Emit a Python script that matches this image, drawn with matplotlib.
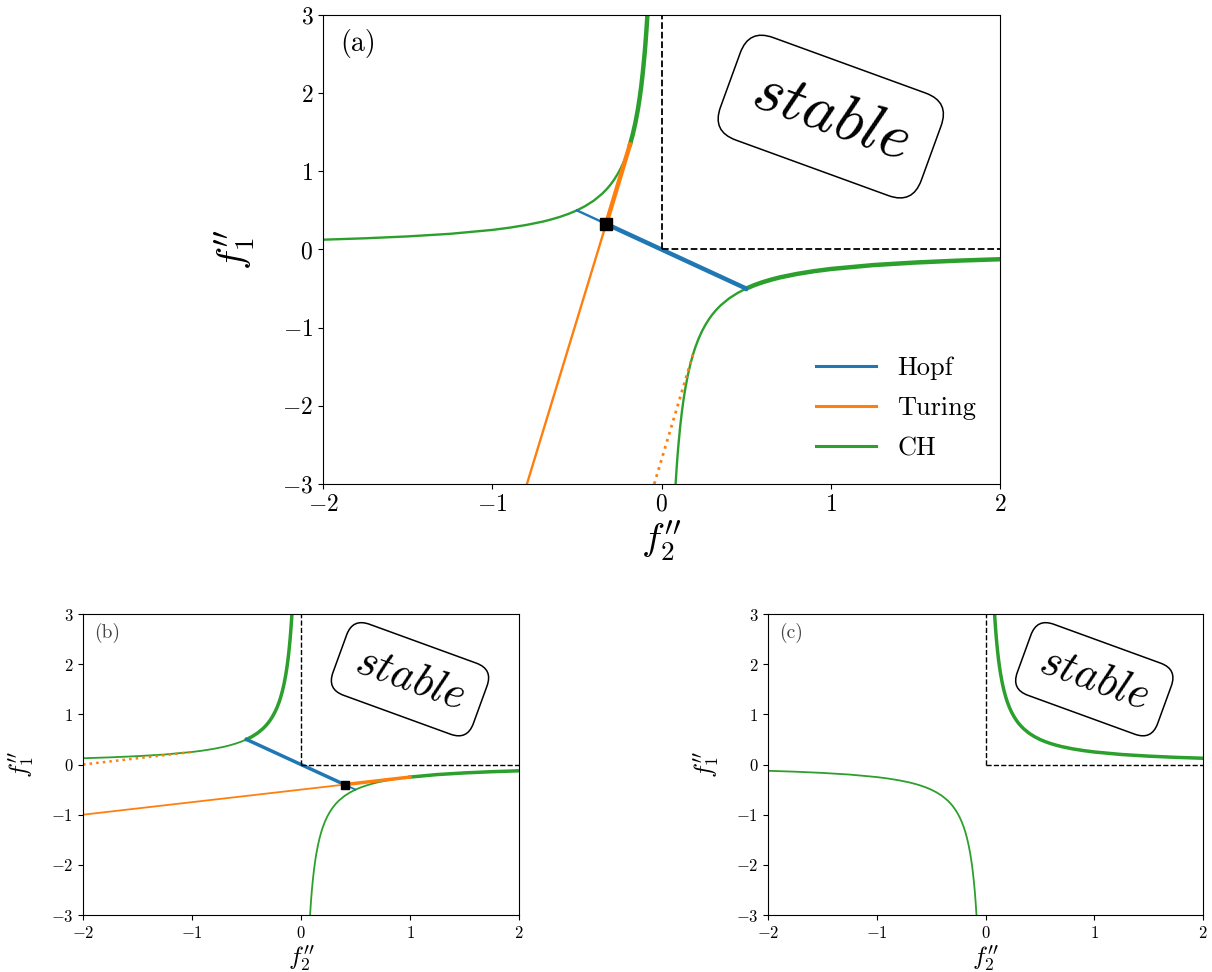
import numpy as np
import matplotlib
matplotlib.use('Agg')
import matplotlib.pyplot as plt

# Computer-Modern look without LaTeX
plt.rcParams['font.family'] = 'serif'
plt.rcParams['font.serif'] = ['cmr10']
plt.rcParams['mathtext.fontset'] = 'cm'
plt.rcParams['axes.formatter.use_mathtext'] = True

C_HOPF = '#1f77b4'
C_TURING = '#ff7f0e'
C_CH = '#2ca02c'

# CH curve branches
ch_f2_neg = [-2.0, -1.75, -1.5, -1.25, -1.0, -0.9, -0.8, -0.7, -0.65, -0.6, -0.55, -0.5,
             -0.45, -0.4, -0.35, -0.32, -0.3, -0.28, -0.26, -0.24, -0.22, -0.2, -0.186,
             -0.17, -0.155, -0.14, -0.13, -0.12, -0.11, -0.1, -0.095, -0.09, -0.085, -0.083]
ch_f1_pos = [0.125, 0.143, 0.167, 0.2, 0.25, 0.278, 0.313, 0.357, 0.385, 0.417, 0.455, 0.5,
             0.556, 0.625, 0.714, 0.781, 0.833, 0.893, 0.962, 1.042, 1.136, 1.25, 1.344,
             1.471, 1.613, 1.786, 1.923, 2.083, 2.273, 2.5, 2.632, 2.778, 2.941, 3.012]
ch_f2_pos = [2.0, 1.75, 1.5, 1.25, 1.0, 0.9, 0.8, 0.7, 0.65, 0.6, 0.55, 0.5,
             0.45, 0.4, 0.35, 0.32, 0.3, 0.28, 0.26, 0.24, 0.22, 0.2, 0.186,
             0.17, 0.155, 0.14, 0.13, 0.12, 0.11, 0.1, 0.095, 0.09, 0.085, 0.083]
ch_f1_neg = [-0.125, -0.143, -0.167, -0.2, -0.25, -0.278, -0.313, -0.357, -0.385, -0.417, -0.455, -0.5,
             -0.556, -0.625, -0.714, -0.781, -0.833, -0.893, -0.962, -1.042, -1.136, -1.25, -1.344,
             -1.471, -1.613, -1.786, -1.923, -2.083, -2.273, -2.5, -2.632, -2.778, -2.941, -3.012]

# panel (a): Hopf / Turing lines, point 1 is the codim-2 point
hopf_a_f2 = [-0.5, -0.327, 0.5]
hopf_a_f1 = [0.5, 0.327, -0.5]
turing_a_f2 = [-0.795, -0.327, -0.186]
turing_a_f1 = [-3.0, 0.327, 1.344]
turing_a_dot_f2 = [-0.043, 0.186]
turing_a_dot_f1 = [-3.0, -1.344]

# panel (b)
hopf_b_f2 = [-0.5, 0.4, 0.5]
hopf_b_f1 = [0.5, -0.4, -0.5]
turing_b_f2 = [-2.0, 0.4, 1.0]
turing_b_f1 = [-1.0, -0.4, -0.25]
turing_b_dot_f2 = [-2.0, -1.0]
turing_b_dot_f1 = [0.0, 0.25]

xticks = [-2, -1, 0, 1, 2]
yticks = [-3, -2, -1, 0, 1, 2, 3]


def setup(ax, tick_fs, label_fs, tag, tag_fs, tag_color, stable_fs, lw_dash):
    ax.set_xlim(-2, 2)
    ax.set_ylim(-3, 3)
    ax.set_xticks(xticks)
    ax.set_yticks(yticks)
    ax.tick_params(labelsize=tick_fs)
    ax.set_xlabel(r"$f_2''$", fontsize=label_fs, labelpad=2)
    ax.set_ylabel(r"$f_1''$", fontsize=label_fs)
    ax.plot([0, 0], [0, 3], 'k--', lw=lw_dash)
    ax.plot([0, 2], [0, 0], 'k--', lw=lw_dash)
    ax.text(0.025, 0.97, tag, transform=ax.transAxes, fontsize=tag_fs,
            ha='left', va='top', color=tag_color)
    ax.text(1.0, 1.7, r'$stable$', rotation=-20, fontsize=stable_fs,
            ha='center', va='center',
            bbox=dict(boxstyle='round,pad=0.4', fc='white', ec='black', lw=1.1))


fig = plt.figure(figsize=(12.12, 9.72), dpi=100)

ax_a = fig.add_axes([0.2665, 0.5021, 0.5586, 0.4825])
ax_b = fig.add_axes([0.0685, 0.0586, 0.3597, 0.3097])
ax_c = fig.add_axes([0.6337, 0.0586, 0.3589, 0.3097])

f2n = np.array(ch_f2_neg)
f2p = np.array(ch_f2_pos)
f1p = np.array(ch_f1_pos)
f1n = np.array(ch_f1_neg)

# ---- (a) ----
ax = ax_a
thin, thick = 1.7, 3.2
ax.plot(f2n, f1p, color=C_CH, lw=thin)
m = f2n >= -0.186
ax.plot(f2n[m], f1p[m], color=C_CH, lw=thick)
ax.plot(f2p, f1n, color=C_CH, lw=thin)
m = f2p >= 0.5
ax.plot(f2p[m], f1n[m], color=C_CH, lw=thick)
ax.plot(hopf_a_f2[:2], hopf_a_f1[:2], color=C_HOPF, lw=thin)
ax.plot(hopf_a_f2[1:], hopf_a_f1[1:], color=C_HOPF, lw=thick)
ax.plot(turing_a_f2[:2], turing_a_f1[:2], color=C_TURING, lw=thin)
ax.plot(turing_a_f2[1:], turing_a_f1[1:], color=C_TURING, lw=thick)
ax.plot(turing_a_dot_f2, turing_a_dot_f1, color=C_TURING, lw=2, ls=':')
ax.plot(hopf_a_f2[1], hopf_a_f1[1], 's', color='k', ms=9)
h1, = ax.plot([], [], color=C_HOPF, lw=2.2, label='Hopf')
h2, = ax.plot([], [], color=C_TURING, lw=2.2, label='Turing')
h3, = ax.plot([], [], color=C_CH, lw=2.2, label='CH')
ax.legend(handles=[h1, h2, h3], loc='lower right', frameon=False, fontsize=19,
          handlelength=2.3, labelspacing=0.62, borderaxespad=0.5)
setup(ax, 17, 28, '(a)', 20, 'black', 46, 1.3)
ax.yaxis.labelpad = 18

# ---- (b) ----
ax = ax_b
thin, thick = 1.3, 2.5
ax.plot(f2n, f1p, color=C_CH, lw=thin)
m = f2n >= -0.5
ax.plot(f2n[m], f1p[m], color=C_CH, lw=thick)
ax.plot(f2p, f1n, color=C_CH, lw=thin)
m = f2p >= 1.0
ax.plot(f2p[m], f1n[m], color=C_CH, lw=thick)
ax.plot(turing_b_dot_f2, turing_b_dot_f1, color=C_TURING, lw=1.8, ls=':')
ax.plot(hopf_b_f2[:2], hopf_b_f1[:2], color=C_HOPF, lw=thick)
ax.plot(hopf_b_f2[1:], hopf_b_f1[1:], color=C_HOPF, lw=thin)
ax.plot(turing_b_f2[:2], turing_b_f1[:2], color=C_TURING, lw=thin)
ax.plot(turing_b_f2[1:], turing_b_f1[1:], color=C_TURING, lw=thick)
ax.plot(hopf_b_f2[1], hopf_b_f1[1], 's', color='k', ms=6)
setup(ax, 12, 18, '(b)', 14, '#444444', 32, 1.0)
ax.yaxis.labelpad = 10

# ---- (c) ----
ax = ax_c
ax.plot(f2p, f1p, color=C_CH, lw=2.5)
ax.plot(f2n, f1n, color=C_CH, lw=1.3)
setup(ax, 12, 18, '(c)', 14, '#444444', 32, 1.0)
ax.yaxis.labelpad = 10

fig.savefig('out.png', dpi=100)
